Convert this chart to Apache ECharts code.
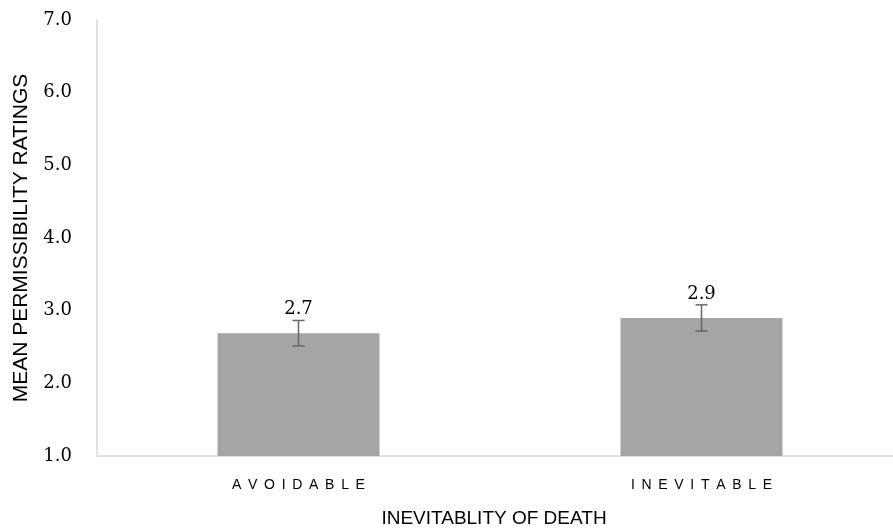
<!DOCTYPE html>
<html>
<head>
<meta charset="utf-8">
<script src="https://cdn.jsdelivr.net/npm/echarts@6/dist/echarts.min.js"></script>
<style>html,body{margin:0;padding:0;background:#fff}#c{width:893px;height:531px}</style>
</head>
<body>
<div id="c"></div>
<script>
var categories = ['AVOIDABLE', 'INEVITABLE'];
var means = [2.69, 2.90];
var errors = [0.175, 0.18];
var yTicks = [1, 7, 1]; // min, max, interval

var chart = echarts.init(document.getElementById('c'), null, {renderer: 'canvas'});
var errData = categories.map(function (c, i) { return [i, means[i] - errors[i], means[i] + errors[i]]; });

chart.setOption({
  animation: false,
  grid: {left: 97, right: -10, top: 20, bottom: 75, containLabel: false, outerBoundsMode: 'none'},
  xAxis: {
    type: 'category',
    data: categories,
    name: 'INEVITABLITY OF DEATH',
    nameLocation: 'middle',
    nameGap: 53,
    nameTextStyle: {fontFamily: 'Liberation Sans', fontSize: 19, color: '#000', padding: [0, 12, 0, 0]},
    axisLine: {lineStyle: {color: '#D9D9D9', width: 1.5}},
    axisTick: {show: false},
    axisLabel: {
      margin: 22,
      fontFamily: 'Liberation Sans', fontSize: 14, color: '#000',
      formatter: function (v) { return v.split('').join('\u2009 '); }
    }
  },
  yAxis: {
    type: 'value',
    min: yTicks[0], max: yTicks[1], interval: yTicks[2],
    name: 'MEAN PERMISSIBILITY RATINGS',
    nameLocation: 'middle',
    nameRotate: 90,
    nameGap: 65,
    nameTextStyle: {fontFamily: 'Liberation Sans', fontSize: 21, color: '#000'},
    axisLine: {show: true, lineStyle: {color: '#D9D9D9', width: 1.5}},
    axisTick: {show: false},
    splitLine: {show: false},
    axisLabel: {
      margin: 25,
      fontFamily: 'DejaVu Serif', fontSize: 18, color: '#000',
      formatter: function (v) { return v.toFixed(1); }
    }
  },
  series: [{
    type: 'bar',
    data: means,
    barWidth: 162,
    itemStyle: {color: '#A5A5A5'},
    label: {
      show: true, position: 'top', distance: 15,
      fontFamily: 'DejaVu Serif', fontSize: 18, color: '#000',
      formatter: function (p) { return p.value.toFixed(1); }
    },
    z: 2
  }, {
    type: 'custom',
    data: errData,
    z: 3,
    renderItem: function (params, api) {
      var x = api.value(0);
      var lo = api.coord([x, api.value(1)]);
      var hi = api.coord([x, api.value(2)]);
      var cap = 6;
      var style = {stroke: '#666666', lineWidth: 1.5};
      return {
        type: 'group',
        children: [
          {type: 'line', shape: {x1: hi[0], y1: hi[1], x2: lo[0], y2: lo[1]}, style: style},
          {type: 'line', shape: {x1: hi[0] - cap, y1: hi[1], x2: hi[0] + cap, y2: hi[1]}, style: style},
          {type: 'line', shape: {x1: lo[0] - cap, y1: lo[1], x2: lo[0] + cap, y2: lo[1]}, style: style}
        ]
      };
    }
  }]
});
</script>
</body>
</html>
